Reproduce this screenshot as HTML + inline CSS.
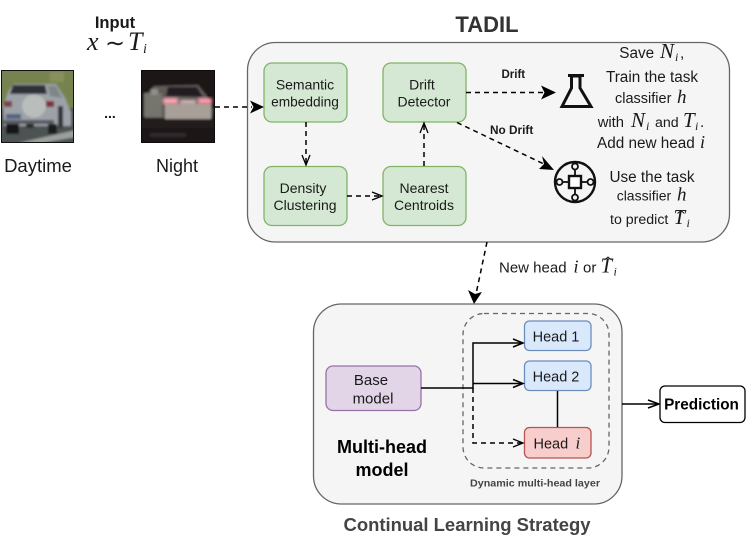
<!DOCTYPE html>
<html><head><meta charset="utf-8"><style>
html,body{margin:0;padding:0;background:#fff}
svg{display:block}
text{font-family:"Liberation Sans",sans-serif;fill:#1a1a1a}
.m{font-family:"Liberation Serif",serif;font-style:italic}
.c{text-anchor:middle}
.b{font-weight:bold}
</style></head><body>
<svg width="747" height="540" viewBox="0 0 747 540" xmlns="http://www.w3.org/2000/svg">
<defs>
<filter id="bl" x="-5%" y="-5%" width="110%" height="110%"><feGaussianBlur stdDeviation="1.100"/></filter>
<filter id="bl2" x="-30%" y="-30%" width="160%" height="160%"><feGaussianBlur stdDeviation="1.500"/></filter>
<clipPath id="c1"><rect x="2" y="71" width="71" height="71"/></clipPath>
<clipPath id="c2"><rect x="142" y="71" width="72" height="71"/></clipPath>
</defs>

<!-- Daytime image -->
<rect x="1" y="70" width="73" height="73" fill="#111"/>
<g clip-path="url(#c1)"><g filter="url(#bl)">
<rect x="0" y="68" width="76" height="40" fill="#76834f"/>
<rect x="50" y="72" width="14" height="10" fill="#87905a"/>
<rect x="0" y="108" width="76" height="38" fill="#4e5352"/>
<polygon points="9,90 14,84 56,84 65,98 71,112 71,126 4,126 3,106" fill="#9da2a8"/>
<polygon points="10,94 13,85 45,85 47,94" fill="#2f3038"/>
<polygon points="48,86 56,86 62,98 50,96" fill="#7f8688"/>
<rect x="4" y="101" width="8" height="6" fill="#7d4248"/>
<rect x="46" y="101" width="8" height="6" fill="#7c3238"/>
<ellipse cx="34" cy="106" rx="12" ry="11.500" fill="#b9bebc"/>
<rect x="6" y="114" width="15" height="5" fill="#536484"/>
<rect x="4" y="120" width="50" height="4" fill="#565a60"/>
<rect x="6" y="124" width="13" height="10" fill="#191919"/>
<rect x="26" y="124" width="8" height="4" fill="#2a2a2a"/>
<rect x="48" y="124" width="9" height="10" fill="#1c1c1c"/>
<rect x="58" y="106" width="5" height="22" fill="#33353a"/>
<polygon points="18,143 76,130 76,137 42,143" fill="#9aa09c"/>
</g></g>

<!-- Night image -->
<rect x="141" y="70" width="74" height="73" fill="#0c0a0a"/>
<g clip-path="url(#c2)"><g filter="url(#bl)">
<rect x="140" y="68" width="76" height="76" fill="#1a1315"/>
<polygon points="145,96 154,86 198,85 207,96 213,110 212,118 145,118" fill="#5e5a58"/>
<polygon points="166,96 168,87 197,87 203,97" fill="#241f22"/>
<rect x="144" y="93" width="18" height="24" fill="#74756d"/>
<rect x="151" y="89" width="7" height="6" fill="#8f8f87"/>
<rect x="165" y="104" width="46" height="15" fill="#a79f98"/>
<rect x="142" y="120" width="74" height="8" fill="#241b1d"/>
<rect x="150" y="133" width="36" height="4" fill="#332b2f"/>
</g>
<g filter="url(#bl2)">
<rect x="163" y="98" width="15" height="6" fill="#ffa5b4"/>
<rect x="198" y="98" width="14" height="6" fill="#ff9aac"/>
<rect x="180" y="100" width="16" height="4" fill="#d8c0c0"/>
</g></g>

<text class="c b" x="115" y="28" font-size="16.500">Input</text>
<text x="87" y="50" font-size="26" class="m">x</text>
<text x="105" y="51" font-size="24" font-family="Liberation Serif">∼</text>
<text x="128" y="50" font-size="26" class="m">T</text>
<text x="143" y="53" font-size="14" class="m">i</text>
<text class="c" x="38" y="172" font-size="18.500">Daytime</text>
<text class="c" x="177" y="172" font-size="18">Night</text>
<text class="c b" x="110" y="118" font-size="14">...</text>

<!-- TADIL -->
<text class="c b" x="487" y="32" font-size="22" style="fill:#333">TADIL</text>
<rect x="247.500" y="42.500" width="482" height="199.500" rx="28" fill="#f5f5f5" stroke="#666" stroke-width="1.300"/>

<g fill="#d5e8d4" stroke="#82b366" stroke-width="1.300">
<rect x="264" y="63" width="83" height="59" rx="8"/>
<rect x="383" y="63" width="83" height="59" rx="8"/>
<rect x="264" y="166.500" width="83" height="59" rx="8"/>
<rect x="383" y="166.500" width="83" height="59" rx="8"/>
</g>
<text class="c" x="305" y="89.500" font-size="14">Semantic</text>
<text class="c" x="305" y="106.500" font-size="13.700">embedding</text>
<text class="c" x="422" y="89.500" font-size="14">Drift</text>
<text class="c" x="424" y="106.500" font-size="14">Detector</text>
<text class="c" x="303" y="193" font-size="14">Density</text>
<text class="c" x="305" y="210" font-size="14">Clustering</text>
<text class="c" x="424" y="193" font-size="14">Nearest</text>
<text class="c" x="424" y="210" font-size="14">Centroids</text>

<!-- dashed connectors -->
<g fill="none" stroke="#000" stroke-width="1.500" stroke-dasharray="5 4">
<line x1="215" y1="107" x2="252" y2="107"/>
<line x1="306" y1="122" x2="306" y2="164"/>
<line x1="347" y1="196" x2="381" y2="196"/>
<line x1="424" y1="166" x2="424" y2="124"/>
<line x1="466" y1="92.500" x2="546" y2="92.500"/>
<line x1="457" y1="122.500" x2="546" y2="165"/>
<line x1="487" y1="242" x2="476" y2="294"/>
</g>
<g fill="#000">
<polygon points="264,107 250,100.500 253.500,107 250,113.500"/>
<polygon points="556,92.500 541,85.500 544.500,92.500 541,99.500"/>
<polygon points="554,170 539,169 544,164 542,156"/>
<polygon points="474,304 468,290 475,294 482,292"/>
</g>
<g fill="none" stroke="#000" stroke-width="1.300">
<polyline points="302,155 306,165 310,155"/>
<polyline points="372,192 382,196 372,200"/>
<polyline points="420,133 424,123 428,133"/>
</g>

<text class="b" x="501.500" y="78" font-size="11.500">Drift</text>
<text class="b" x="490" y="134" font-size="11.800">No Drift</text>

<!-- flask -->
<g fill="none" stroke="#111" stroke-width="3" stroke-linejoin="miter">
<line x1="568" y1="75.500" x2="584" y2="75.500"/>
<polygon points="571.500,76 571.500,88 562,106.500 591,106.500 580,88 580,76"/>
</g>
<!-- chip icon -->
<g stroke="#111">
<circle cx="575" cy="182" r="20" stroke-width="2.400" fill="none"/>
<rect x="569" y="176" width="12" height="12" stroke-width="2.400" fill="#fff"/>
<g stroke-width="1.800" fill="#f5f5f5">
<circle cx="575" cy="166.500" r="3"/><circle cx="575" cy="197.500" r="3"/>
<circle cx="559.500" cy="182" r="3"/><circle cx="590.500" cy="182" r="3"/>
<line x1="575" y1="169.500" x2="575" y2="176"/><line x1="575" y1="188" x2="575" y2="194.500"/>
<line x1="562.500" y1="182" x2="569" y2="182"/><line x1="581" y1="182" x2="587.500" y2="182"/>
</g></g>

<!-- right text -->
<text x="619.300" y="58" font-size="15.300">Save</text>
<text x="660" y="58" font-size="21" class="m">N</text>
<text x="675" y="61" font-size="12" class="m">i</text>
<text x="680" y="58" font-size="15.300">,</text>

<text class="c" x="652" y="82" font-size="15.300">Train the task</text>

<text x="615" y="103" font-size="14.500">classifier</text>
<text x="677" y="103" font-size="19" class="m">h</text>

<text x="597.700" y="127" font-size="14.800">with</text>
<text x="631" y="127" font-size="21" class="m">N</text>
<text x="646" y="130" font-size="12" class="m">i</text>
<text x="655" y="127" font-size="14.200">and</text>
<text x="683" y="127" font-size="21" class="m">T</text>
<text x="695" y="130" font-size="12" class="m">i</text>
<text x="700" y="127" font-size="15.300">.</text>

<text x="597" y="148" font-size="15.300">Add new head</text>
<text x="700" y="148" font-size="18" class="m">i</text>

<text class="c" x="652" y="182" font-size="15.300">Use the task</text>

<text x="616.700" y="200.500" font-size="14">classifier</text>
<text x="677" y="200.500" font-size="19" class="m">h</text>

<text x="610" y="224" font-size="14.200">to predict</text>
<text x="673.500" y="224" font-size="21" class="m">T</text>
<text x="686.500" y="227" font-size="12" class="m">i</text>
<polyline points="677.500,213.500 681,210.500 684.500,213.500" fill="none" stroke="#1a1a1a" stroke-width="1"/>

<text x="499" y="272.500" font-size="15">New head</text>
<text x="573.500" y="272.500" font-size="18" class="m">i</text>
<text x="583" y="272.500" font-size="15">or</text>
<text x="600.500" y="272.500" font-size="21" class="m">T</text>
<text x="613.500" y="275.500" font-size="12" class="m">i</text>
<polyline points="604.500,260 608,257 611.500,260" fill="none" stroke="#1a1a1a" stroke-width="1"/>

<!-- Multi-head -->
<rect x="313.500" y="304" width="308.500" height="200" rx="28" fill="#f5f5f5" stroke="#666" stroke-width="1.300"/>
<rect x="463" y="313.500" width="146" height="154.500" rx="21" fill="none" stroke="#666" stroke-width="1.300" stroke-dasharray="5 4"/>

<rect x="326" y="366" width="95" height="44.500" rx="7" fill="#e1d5e7" stroke="#9673a6" stroke-width="1.300"/>
<rect x="524.500" y="321" width="66.500" height="29.500" rx="5" fill="#dae8fc" stroke="#6c8ebf" stroke-width="1.300"/>
<rect x="524.500" y="361" width="66.500" height="29.500" rx="5" fill="#dae8fc" stroke="#6c8ebf" stroke-width="1.300"/>
<rect x="524.500" y="427.500" width="66.500" height="30.500" rx="5" fill="#f8cecc" stroke="#b85450" stroke-width="1.300"/>

<text class="c" x="371" y="385" font-size="15">Base</text>
<text class="c" x="373" y="403.500" font-size="15">model</text>
<text class="c" x="556" y="341.500" font-size="14.500">Head 1</text>
<text class="c" x="556" y="381.500" font-size="14.500">Head 2</text>
<text x="533.500" y="448.500" font-size="14.500">Head</text>
<text x="575.500" y="448.500" font-size="17" class="m">i</text>

<g fill="none" stroke="#000" stroke-width="1.500">
<polyline points="421,388 473,388 473,343 522,343"/>
<polyline points="473,383.500 522,383.500"/>
<polyline points="513,339 523,343 513,347"/>
<polyline points="513,379.500 523,383.500 513,387.500"/>
<polyline points="513,439 523,443 513,447" stroke-width="1.300"/>
<polyline points="473,388 473,443 522,443" stroke-dasharray="5 4"/>
<line x1="557.500" y1="391" x2="557.500" y2="427"/>
<line x1="622" y1="404" x2="658" y2="404"/>
<polyline points="648,400 659,404 648,408"/>
</g>

<text class="c b" x="382" y="453" font-size="18" style="fill:#000">Multi-head</text>
<text class="c b" x="382" y="476" font-size="18" style="fill:#000">model</text>
<text class="c b" x="535" y="486.500" font-size="10.500" style="fill:#444" textLength="130" lengthAdjust="spacingAndGlyphs">Dynamic multi-head layer</text>
<text class="c b" x="467" y="531" font-size="18" style="fill:#444" textLength="247" lengthAdjust="spacingAndGlyphs">Continual Learning Strategy</text>

<rect x="660" y="386" width="85" height="36.500" rx="5" fill="#fff" stroke="#000" stroke-width="1.300"/>
<text class="c b" x="701.500" y="409.500" font-size="15.300" style="fill:#000">Prediction</text>
</svg>
</body></html>
